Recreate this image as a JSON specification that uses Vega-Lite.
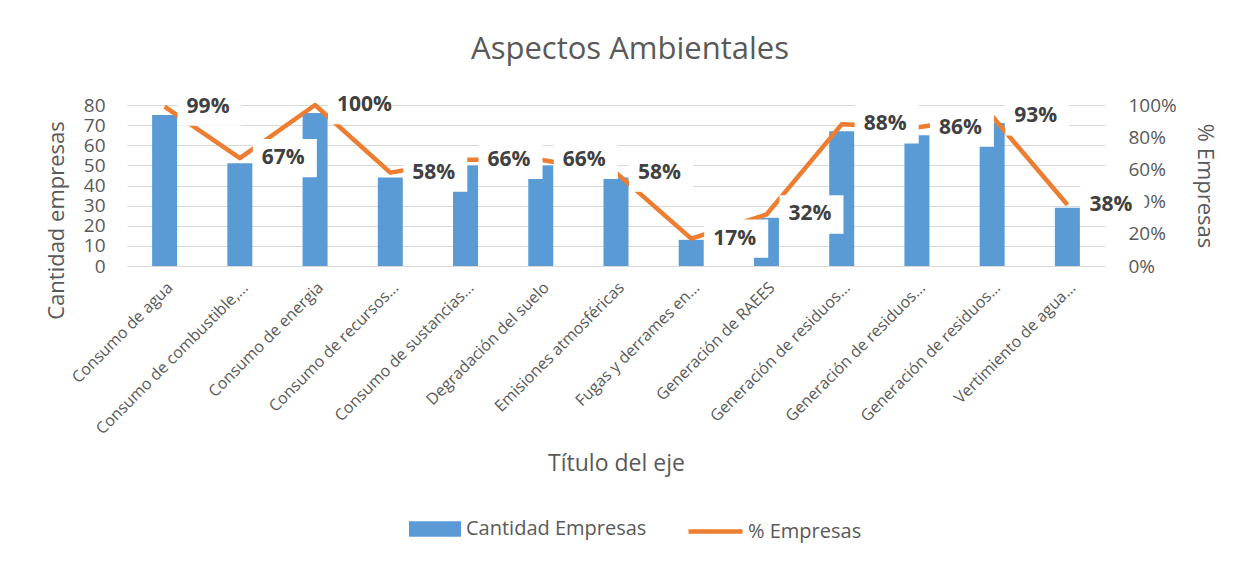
{
  "$schema": "https://vega.github.io/schema/vega-lite/v6.json",
  "width": 978,
  "height": 161,
  "autosize": {"type": "none"},
  "padding": {"left": 127, "top": 105, "right": 145, "bottom": 298},
  "background": "white",
  "config": {
    "font": "Open Sans",
    "view": {"stroke": null},
    "axis": {"labelColor": "#595959", "titleColor": "#595959", "titleFontWeight": "normal", "ticks": false}
  },
  "title": {"text": "Aspectos Ambientales", "fontSize": 31, "fontWeight": "normal", "color": "#595959", "offset": 20, "dx": 14, "anchor": "middle"},
  "data": {
    "values": [
      {"aspecto": "Consumo de agua", "cantidad": 75, "pct": 0.99},
      {"aspecto": "Consumo de combustible,...", "cantidad": 51, "pct": 0.67},
      {"aspecto": "Consumo de energia", "cantidad": 76, "pct": 1.0},
      {"aspecto": "Consumo de recursos...", "cantidad": 44, "pct": 0.58},
      {"aspecto": "Consumo de sustancias...", "cantidad": 50, "pct": 0.66},
      {"aspecto": "Degradación del suelo", "cantidad": 50, "pct": 0.66},
      {"aspecto": "Emisiones atmosféricas", "cantidad": 44, "pct": 0.58},
      {"aspecto": "Fugas y derrames en...", "cantidad": 13, "pct": 0.17},
      {"aspecto": "Generación de RAEES", "cantidad": 24, "pct": 0.32},
      {"aspecto": "Generación de residuos...", "cantidad": 67, "pct": 0.88},
      {"aspecto": "Generación de residuos...\u200b", "cantidad": 65, "pct": 0.86},
      {"aspecto": "Generación de residuos...\u200b\u200b", "cantidad": 71, "pct": 0.93},
      {"aspecto": "Vertimiento de agua...", "cantidad": 29, "pct": 0.38}
    ]
  },
  "encoding": {
    "x": {
      "field": "aspecto", "type": "nominal", "sort": null,
      "axis": {"title": "Título del eje", "titleFontSize": 23, "titlePadding": 16, "labelAngle": -45, "labelFontSize": 16, "labelPadding": 13, "labelLimit": 300, "domainColor": "#D9D9D9", "domainWidth": 1, "grid": false}
    }
  },
  "layer": [
    {
      "mark": {"type": "bar", "size": 25},
      "encoding": {
        "y": {
          "field": "cantidad", "type": "quantitative", "scale": {"domain": [0, 80]},
          "axis": {"title": "Cantidad empresas", "titleFontSize": 22, "titlePadding": 15, "titleY": 115, "labelFontSize": 19, "labelPadding": 22, "values": [0, 10, 20, 30, 40, 50, 60, 70, 80], "domain": false, "grid": true, "gridColor": "#D9D9D9", "gridWidth": 1}
        },
        "fill": {
          "datum": "Cantidad Empresas", "type": "nominal",
          "scale": {"range": ["#5B9BD5"]},
          "legend": {"orient": "none", "legendX": 282, "legendY": 398, "title": null, "symbolType": "M-1,-0.3H1V0.3H-1Z", "symbolSize": 2704, "symbolStrokeWidth": 0, "labelFontSize": 20, "labelLimit": 400, "labelColor": "#595959", "labelOffset": 5, "padding": 0}
        }
      }
    },
    {
      "encoding": {
        "y": {
          "field": "pct", "type": "quantitative", "scale": {"domain": [0, 1]},
          "axis": {"orient": "right", "title": "% Empresas", "titleFontSize": 22, "titlePadding": 16, "labelFontSize": 19, "labelPadding": 23, "format": ".0%", "values": [0, 0.2, 0.4, 0.6, 0.8, 1], "domain": false, "grid": false}
        }
      },
      "layer": [
        {
          "mark": {"type": "line", "strokeWidth": 4.5, "strokeJoin": "round"},
          "encoding": {
            "stroke": {
              "datum": "% Empresas", "type": "nominal",
              "scale": {"range": ["#ED7D31"]},
              "legend": {"orient": "none", "legendX": 559, "legendY": 397, "title": null, "symbolType": "stroke", "symbolSize": 2916, "symbolStrokeWidth": 4.5, "labelFontSize": 20, "labelLimit": 400, "labelColor": "#595959", "labelOffset": 3, "padding": 0}
            }
          }
        },
        {
          "mark": {"type": "point", "shape": "M-1,-0.6H1V0.6H-1Z", "size": 4096, "filled": true, "fill": "white", "opacity": 1, "strokeWidth": 0, "xOffset": 45},
          "encoding": {}
        },
        {
          "mark": {"type": "text", "align": "left", "baseline": "middle", "dx": 22, "fontSize": 21, "fontWeight": "bold", "color": "#404040"},
          "encoding": {"text": {"field": "pct", "type": "quantitative", "format": ".0%"}}
        }
      ]
    }
  ],
  "resolve": {"scale": {"y": "independent"}}
}
